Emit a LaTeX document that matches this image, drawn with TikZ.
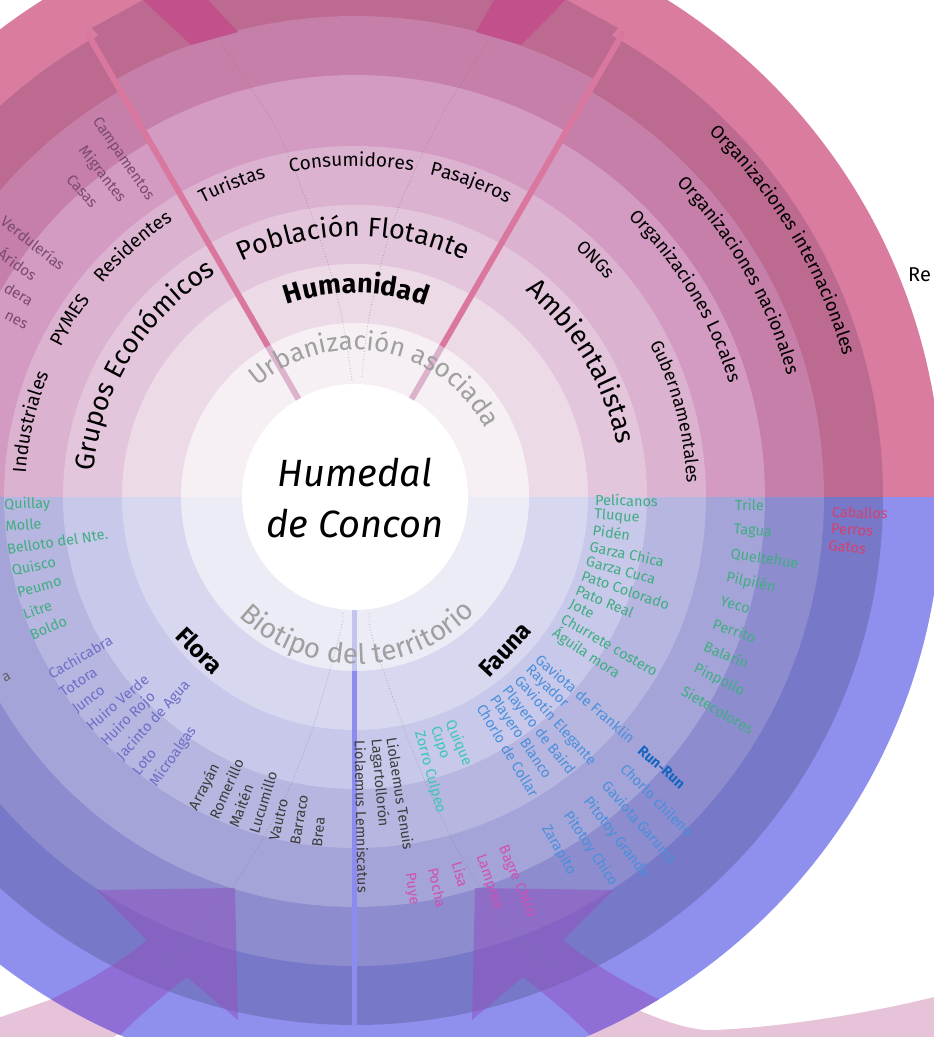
\documentclass[tikz,border=0pt]{standalone}
\usepackage{fontspec}
\setmainfont{Fira Sans}
\usetikzlibrary{decorations.text}
\newcommand\fsz[1]{\fontsize{#1}{#1}\selectfont}
\definecolor{ta}{HTML}{F6F0F4}
\definecolor{tb}{HTML}{ECDAE6}
\definecolor{tc}{HTML}{E4C6DC}
\definecolor{td}{HTML}{DBB2CF}
\definecolor{te}{HTML}{D39AC2}
\definecolor{tf}{HTML}{C67FA8}
\definecolor{tg}{HTML}{BC6A8F}
\definecolor{th}{HTML}{D97CA0}
\definecolor{ba}{HTML}{ECECF6}
\definecolor{bb}{HTML}{D7D7EF}
\definecolor{bc}{HTML}{C8C8EA}
\definecolor{bd}{HTML}{B6B6E0}
\definecolor{be}{HTML}{A4A4D8}
\definecolor{bf}{HTML}{8C8CCE}
\definecolor{bg}{HTML}{7878C8}
\definecolor{bh}{HTML}{8F8FEE}
\definecolor{pline}{HTML}{D9779F}
\definecolor{plight}{HTML}{DDB2CD}
\definecolor{bline}{HTML}{8C8CF0}
\definecolor{blight}{HTML}{C4C4F0}
\definecolor{cgreen}{HTML}{3FAE80}
\definecolor{cblue}{HTML}{4A8FDC}
\definecolor{cdblue}{HTML}{1565C0}
\definecolor{cteal}{HTML}{3CC6B6}
\definecolor{cmag}{HTML}{D050B4}
\definecolor{cred}{HTML}{D8406C}
\definecolor{cpurp}{HTML}{6E6EC8}
\definecolor{cdark}{HTML}{3C3C3C}
\definecolor{cmauve}{HTML}{7A4A6C}
\definecolor{cgray}{HTML}{A0A0A0}
\definecolor{arrowp}{HTML}{9050C0}
\definecolor{trap}{HTML}{C2508A}
\definecolor{npink}{HTML}{E6C3D9}
\newcounter{lab}
\tikzset{
  small/.style={inner sep=0pt, font=\fsz{14.5}},
  mid/.style={inner sep=0pt, font=\fsz{19}},
  dotline/.style={gray, dotted, line width=0.8pt, opacity=0.5},
  arrowshape/.style={fill=arrowp, fill opacity=0.5},
}
% arc text: #1 color, #2 size, #3 radius, #4 start, #5 end, #6 format, #7 text
\newcommand\arclab[7]{\path[decorate,decoration={text along path,text align=center,text color=#1,text={|\fsz{#2}#6|#7}}] (#4:#3) arc[start angle=#4,end angle=#5,radius=#3];}
\newcommand\fwd[4][]{\stepcounter{lab}\node[small,anchor=west,rotate=#2,#1] (n\thelab) at (#2:#3) {#4};}
\newcommand\inw[4][]{\stepcounter{lab}\node[small,anchor=west,rotate=#2-180,#1] (n\thelab) at (#2:#3) {#4};}
\newcommand\cinw[4][]{\stepcounter{lab}\node[small,anchor=center,rotate=#2-180,#1] (n\thelab) at (#2:#3) {#4};}
\newcommand\einw[4][]{\stepcounter{lab}\node[small,anchor=east,rotate=#2-180,#1] (n\thelab) at (#2:#3) {#4};}
\newcommand\midwedge[2]{\fill[#1] (0,0) -- (60:#2) arc[start angle=60,end angle=120,radius=#2] -- cycle;}
\begin{document}
\begin{tikzpicture}[x=1pt,y=1pt]
\useasboundingbox (-355,-540) rectangle (579,497);
% ---------- neighbouring rings (behind)
\fill[npink] (-360,-522) .. controls (-320,-508) and (-260,-488) .. (-180,-455) -- (-150,-480) .. controls (-190,-505) and (-225,-528) .. (-255,-550) -- (-360,-550) -- cycle;
\fill[npink] (220,-480) .. controls (280,-515) and (330,-535) .. (360,-533) .. controls (430,-530) and (520,-515) .. (579,-500) -- (579,-560) -- (220,-560) -- cycle;
% ---------- top half rings
\begin{scope}
\clip (-620,0) rectangle (620,620);
\fill[th] (0,0) circle (587);
\fill[tg] (0,0) circle (528);
\fill[tf] (0,0) circle (469);
\fill[te] (0,0) circle (410);
\fill[td] (0,0) circle (351);
\fill[tc] (0,0) circle (292);
\fill[tb] (0,0) circle (233);
\fill[ta] (0,0) circle (174);
\end{scope}
% middle sector has its outer bands slightly wider
\midwedge{tf}{481}
\midwedge{te}{422}
\midwedge{td}{351}
\midwedge{tc}{292}
\midwedge{tb}{233}
\midwedge{ta}{174}
% tops of the separators
\fill[tg] (-263,469) -- (-212,497) -- (-164,452) -- (-230,430) -- cycle;
\fill[tg] (263,469) -- (212,497) -- (164,452) -- (230,430) -- cycle;
% ---------- bottom half rings
\begin{scope}
\clip (-620,0) rectangle (620,-620);
\fill[bh] (0,0) circle (587);
\fill[bg] (0,0) circle (528);
\fill[bf] (0,0) circle (469);
\fill[be] (0,0) circle (410);
\fill[bd] (0,0) circle (351);
\fill[bc] (0,0) circle (292);
\fill[bb] (0,0) circle (233);
\fill[ba] (0,0) circle (174);
\end{scope}
\fill[white] (0,0) circle (113);
% ---------- top dark trapezoids
\fill[trap] (-212,497) -- (-147,497) -- (-117,465) -- (-164,452) -- cycle;
\fill[trap] (139,497) -- (211,497) -- (166,452) -- (121,465) -- cycle;
% ---------- separators
\coordinate (s60a) at (60:113); \coordinate (s60b) at (60:174); \coordinate (s60c) at (60:537);
\coordinate (s120a) at (120:113); \coordinate (s120b) at (120:174); \coordinate (s120c) at (120:537);
\coordinate (s270a) at (270:113); \coordinate (s270b) at (270:174); \coordinate (s270c) at (270:528);
\draw[plight, line width=6pt] (s60a) -- (s60b);
\draw[pline, line width=6pt] (s60b) -- (s60c);
\draw[plight, line width=6pt] (s120a) -- (s120b);
\draw[pline, line width=6pt] (s120b) -- (s120c);
\draw[blight, line width=5pt] (s270a) -- (s270b);
\draw[bline, line width=5pt] (s270b) -- (s270c);
% ---------- bottom curved arrows (head + shaft), inside the circle only
\begin{scope}
\clip (0,0) circle (587);
\fill[arrowshape] (-258,-393) -- (-120,-391) -- (-117,-523) -- (-168,-480)
  .. controls (-200,-505) and (-230,-530) .. (-270,-575) -- (-370,-575) -- (-370,-530)
  .. controls (-300,-505) and (-240,-470) .. (-208,-443) -- cycle;
\fill[arrowshape] (258,-393) -- (120,-391) -- (117,-523) -- (168,-480)
  .. controls (200,-505) and (230,-530) .. (270,-575) -- (370,-575) -- (370,-530)
  .. controls (300,-505) and (240,-470) .. (208,-443) -- cycle;
\end{scope}
% ---------- dotted guide curves
\draw[dotline] plot[smooth] coordinates {(-3,117) (-12,174) (-25,227) (-50,300) (-78,367) (-108,415) (-135,455)};
\draw[dotline] plot[smooth] coordinates {(7,120) (15,185) (40,280) (80,369) (104,410) (133,455)};
\draw[dotline] plot[smooth] coordinates {(-12,-116) (-15,-136) (-42,-230) (-70,-300) (-105,-363) (-150,-430) (-195,-471)};
\draw[dotline] plot[smooth] coordinates {(15,-116) (18,-143) (60,-260) (100,-348) (145,-420) (195,-471)};
% ---------- centre
\node[inner sep=0pt, font=\fsz{38}\itshape, anchor=base] (c1) at (0,11) {Humedal};
\node[inner sep=0pt, font=\fsz{38}\itshape, anchor=base] (c2) at (0,-40) {de Concon};
% ---------- ring labels (top)
\arclab{cgray}{26}{147}{134.5}{24.5}{}{Urbanización asociada}
\arclab{black}{27}{204}{139.6}{39.6}{\bfseries}{Humanidad}
\arclab{black}{27}{261}{150.4}{30.4}{}{Población Flotante}
\arclab{black}{19}{331}{126.5}{96.5}{}{Turistas}
\arclab{black}{19}{331}{110.6}{70.6}{}{Consumidores}
\arclab{black}{19}{331}{89.8}{49.8}{}{Pasajeros}
\arclab{black}{27}{263}{188.1}{108.1}{}{Grupos Económicos}
\arclab{black}{19}{330}{187}{147}{}{Industriales}
\arclab{black}{19}{330}{163.2}{133.2}{}{PYMES}
\arclab{black}{19}{331}{156.6}{106.6}{}{Residentes}
\arclab{black}{27}{267}{70.9}{-9.1}{}{Ambientalistas}
\arclab{black}{18}{332}{59.6}{29.6}{}{ONGs}
\arclab{black}{18}{332}{39.9}{-10.1}{}{Gubernamentales}
\arclab{black}{18.5}{391}{61.3}{1.3}{}{Organizaciones Locales}
\arclab{black}{18.5}{449}{60}{0}{}{Organizaciones nacionales}
\arclab{black}{18.5}{508}{61}{1}{}{Organizaciones internacionales}
\arclab{cgray}{28}{167}{211}{331}{}{Biotipo del territorio}
% ---------- left top small lists
\cinw[text=cmauve, font=\fsz{15}]{124.5}{410}{Campamentos}
\cinw[text=cmauve, font=\fsz{15}]{128.1}{410}{Migrantes}
\cinw[text=cmauve, font=\fsz{15}]{131.7}{410}{Casas}
\cinw[text=cmauve, font=\fsz{15}]{141.7}{410}{Verdulerías}
\cinw[text=cmauve, font=\fsz{15}]{145.3}{410}{Áridos}
\einw[text=cmauve, font=\fsz{15}]{148.9}{377}{dera}
\einw[text=cmauve, font=\fsz{15}]{152.5}{370}{nes}
\node[mid, anchor=west, font=\fsz{20}] (re) at (553,222) {Re};
% ---------- bold sector titles
\node[inner sep=0pt, font=\fsz{24}\bfseries, rotate=-45] (flora) at (-155,-153) {Flora};
\node[inner sep=0pt, font=\fsz{24}\bfseries, rotate=47] (fauna) at (150,-153) {Fauna};
% ---------- Fauna, inner lists
\fwd[text=cgreen]{-0.7}{240}{Pelícanos}
\fwd[text=cgreen]{-4.3}{240}{Tluque}
\fwd[text=cgreen]{-7.9}{240}{Pidén}
\fwd[text=cgreen]{-11.8}{240}{Garza Chica}
\fwd[text=cgreen]{-15.4}{240}{Garza Cuca}
\fwd[text=cgreen]{-19}{240}{Pato Colorado}
\fwd[text=cgreen]{-22.7}{240}{Pato Real}
\fwd[text=cgreen]{-26.5}{240}{Jote}
\fwd[text=cgreen]{-30.2}{240}{Churrete costero}
\fwd[text=cgreen]{-34}{240}{Águila mora}
\fwd[text=cblue]{-41.2}{243}{Gaviota de Franklin}
\fwd[text=cblue]{-44.7}{243}{Rayador}
\fwd[text=cblue]{-48.2}{243}{Gaviotín Elegante}
\fwd[text=cblue]{-51.9}{243}{Playero de Baird}
\fwd[text=cblue]{-55.5}{243}{Playero Blanco}
\fwd[text=cblue]{-58.9}{243}{Chorlo de Collar}
\fwd[text=cteal]{-67.2}{243}{Quique}
\fwd[text=cteal]{-71}{243}{Cupo}
\fwd[text=cteal]{-74.8}{243}{Zorro Culpeo}
\fwd[text=cdark]{-81.3}{243}{Liolaemus Tenuis}
\fwd[text=cdark]{-85.1}{243}{Lagartollorón}
\fwd[text=cdark]{-88.8}{243}{Liolaemus Lemniscatus}
% ---------- Fauna, outer lists
\fwd[text=cgreen]{-1.2}{380}{Trile}
\fwd[text=cgreen]{-5}{380}{Tagua}
\fwd[text=cgreen]{-8.6}{380}{Queltehue}
\fwd[text=cgreen]{-12.2}{380}{Pilpilén}
\fwd[text=cgreen]{-15.8}{380}{Yeco}
\fwd[text=cgreen]{-19.4}{380}{Perrito}
\fwd[text=cgreen]{-23}{380}{Balarín}
\fwd[text=cgreen]{-26.7}{380}{Pinpollo}
\fwd[text=cgreen]{-30.4}{380}{Sietecolores}
\fwd[text=cdblue, font=\fsz{14.5}\bfseries]{-41.4}{380}{Run-Run}
\fwd[text=cblue]{-45.1}{380}{Chorlo chileno}
\fwd[text=cblue]{-48.8}{380}{Gaviota Garuma}
\fwd[text=cblue]{-52.5}{380}{Pitotoy Grande}
\fwd[text=cblue]{-56.2}{380}{Pitotoy Chico}
\fwd[text=cblue]{-60}{380}{Zarapito}
\fwd[text=cmag]{-67.1}{379}{Bagre Chico}
\fwd[text=cmag]{-70.8}{379}{Lamprea}
\fwd[text=cmag]{-74.4}{379}{Lisa}
\fwd[text=cmag]{-78.1}{379}{Pocha}
\fwd[text=cmag]{-81.8}{380}{Puye}
\fwd[text=cred]{-1.8}{477}{Caballos}
\fwd[text=cred]{-3.8}{477}{Perros}
\fwd[text=cred]{-5.8}{476}{Gatos}
% ---------- Flora lists
\inw[text=cgreen]{181.3}{351}{Quillay}
\inw[text=cgreen]{184.8}{351}{Molle}
\inw[text=cgreen]{188.5}{352}{Belloto del Nte.}
\inw[text=cgreen]{192.2}{351}{Quisco}
\inw[text=cgreen]{195.9}{351}{Peumo}
\inw[text=cgreen]{199.5}{352}{Litre}
\inw[text=cgreen]{203.1}{353}{Boldo}
\inw[text=cpurp]{210.2}{354}{Cachicabra}
\inw[text=cpurp]{213.8}{354}{Totora}
\inw[text=cpurp]{217.3}{353}{Junco}
\inw[text=cpurp]{220.8}{353}{Huiro Verde}
\inw[text=cpurp]{224.4}{352}{Huiro Rojo}
\inw[text=cpurp]{228}{352}{Jacinto de Agua}
\inw[text=cpurp]{231.5}{353}{Loto}
\inw[text=cpurp]{235}{352}{Microalgas}
\inw[text=cdark]{242.6}{352}{Arrayán}
\inw[text=cdark]{246.2}{351}{Romerillo}
\inw[text=cdark]{249.7}{352}{Maitén}
\inw[text=cdark]{253.2}{351}{Lucumillo}
\inw[text=cdark]{256.7}{353}{Vautro}
\inw[text=cdark]{260.2}{353}{Barraco}
\inw[text=cdark]{263.8}{352}{Brea}
\einw[text=cdark!80]{207.3}{388}{a}
\end{tikzpicture}
\end{document}
